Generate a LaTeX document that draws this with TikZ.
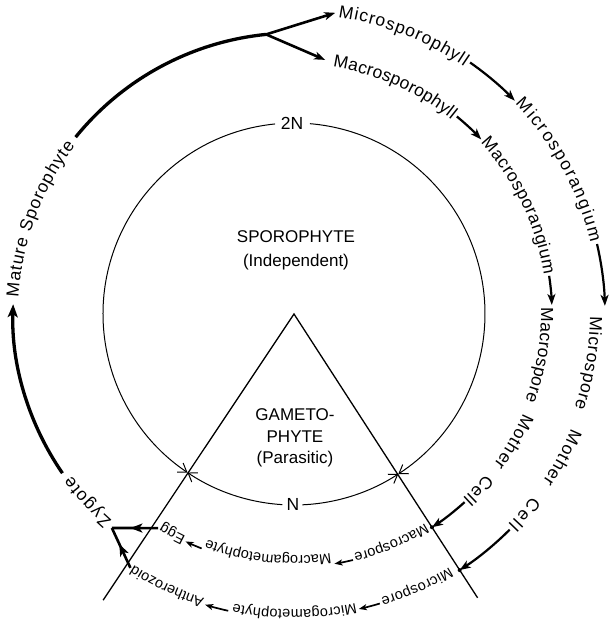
\documentclass[tikz,border=0pt]{standalone}
\usepackage{fontspec}
\setmainfont{Liberation Sans}
\usetikzlibrary{arrows.meta,decorations.text,decorations.markings}

\newcommand{\labbig}{\fontsize{17.5}{21}\selectfont}
\newcommand{\labsmall}{\fontsize{14.5}{18}\selectfont}

\begin{document}
\begin{tikzpicture}[x=1pt,y=1pt,
  ring/.style={decorate,decoration={text along path,text align={fit to path},raise=-5pt,text={#1}}},
  life/.style={line width=3.3pt},
  link/.style={line width=2.2pt,-{Stealth[length=11pt,width=8pt,inset=3pt]}},
  minilink/.style={line width=1.7pt,-{Stealth[length=8pt,width=6pt,inset=2pt]}},
  ploidy/.style={line width=1pt,-{Straight Barb[length=8pt,width=11pt]}},
  midarrow/.style={postaction={decorate,decoration={markings,
    mark=at position #1 with {\arrow{Stealth[length=12pt,width=9pt,inset=3pt]}}}}}]
  \useasboundingbox (-294,-313) rectangle (315,314);
  % fixed points
  \coordinate (O) at (0,0);
  \coordinate (fork) at (95.7:281);
  \coordinate (micphyll) at (82.2:304);
  \coordinate (macphyll) at (83:256);
  \coordinate (zyg) at (-130.4:281);
  \coordinate (macdot) at (-57.1:254);
  \coordinate (micdot) at (-57.1:305);
  \coordinate (eggend) at (-122.4:253.6);
  \coordinate (anthend) at (-122.8:302);
  \coordinate (leftend) at (-123.7:344);
  \coordinate (rightend) at (-57.1:338);
  % ---- 2N / N circle and the gametophyte wedge
  \node[font=\labbig] (twoN) at (90.6:191) {2N};
  \node[font=\labbig] (oneN) at (-90.3:190) {N};
  \draw[ploidy] (95.7:191) arc[start angle=95.7,end angle=236.1,radius=191];
  \draw[ploidy] (85.2:191) arc[start angle=85.2,end angle=-56.9,radius=191];
  \draw[ploidy] (-93.5:191) arc[start angle=-93.5,end angle=-123.9,radius=191];
  \draw[ploidy] (-87.5:191) arc[start angle=-87.5,end angle=-56.9,radius=191];
  \draw[line width=1.3pt] (leftend) -- (O) -- (rightend);
  \fill (macdot) circle (2pt) (micdot) circle (2pt);
  \node[font=\fontsize{17}{24}\selectfont,align=center] (spo) at (2,64) {SPOROPHYTE\\(Independent)};
  \node[font=\fontsize{17}{21.5}\selectfont,align=center] (gam) at (1,-124) {GAMETO-\\PHYTE\\(Parasitic)};
  % ---- sporophyte line and branching
  \draw[life,-{Stealth[length=13pt,width=10pt,inset=3pt]}] (-145.5:281) arc[start angle=-145.5,end angle=-182,radius=281];
  \draw[life] (141:281) arc[start angle=141,end angle=95.7,radius=281];
  \draw[link,line width=2.6pt] (fork) -- (micphyll);
  \draw[link,line width=2.6pt] (fork) -- (macphyll);
  \path[ring={|\labbig|Mature Sporophyte}] (176.5:281) arc[start angle=176.5,end angle=142.5,radius=281];
  % ---- micro ring
  \path[ring={|\labbig|Microsporophyll}] (81.5:305) arc[start angle=81.5,end angle=55.5,radius=305];
  \draw[link] (55:307) arc[start angle=55,end angle=44,radius=307];
  \path[ring={|\labbig|Microsporangium}] (43.5:310) arc[start angle=43.5,end angle=13.5,radius=310];
  \draw[link] (13:311) arc[start angle=13,end angle=1.5,radius=311];
  \path[ring={|\labbig|Microspore}] (-0.5:301) arc[start angle=-0.5,end angle=-18.5,radius=301];
  \path[ring={|\labbig|Mother}] (-22.5:305) arc[start angle=-22.5,end angle=-34,radius=305];
  \path[ring={|\labbig|Cell}] (-37.5:305) arc[start angle=-37.5,end angle=-44.5,radius=305];
  \draw[link] (-45:305) arc[start angle=-45,end angle=-57.1,radius=305];
  \path[ring={|\labsmall|Microspore}] (-58.5:302) arc[start angle=-58.5,end angle=-73,radius=302];
  \draw[minilink] (-73.5:302) arc[start angle=-73.5,end angle=-77.6,radius=302];
  \path[ring={|\labsmall|Microgametophyte}] (-78:301) arc[start angle=-78,end angle=-101.8,radius=301];
  \draw[minilink] (-102.5:304) arc[start angle=-102.5,end angle=-107,radius=304];
  \path[ring={|\labsmall|Antherozoid}] (-107.5:303) arc[start angle=-107.5,end angle=-122.5,radius=303];
  % ---- macro ring
  \path[ring={|\labbig|Macrosporophyll}] (81:255) arc[start angle=81,end angle=51,radius=255];
  \draw[link] (50.5:256) arc[start angle=50.5,end angle=43,radius=256];
  \path[ring={|\labbig|Macrosporangium}] (42.5:258) arc[start angle=42.5,end angle=9,radius=258];
  \draw[link] (8.5:258) arc[start angle=8.5,end angle=2,radius=258];
  \path[ring={|\labbig|Macrospore}] (1.5:252) arc[start angle=1.5,end angle=-20.5,radius=252];
  \path[ring={|\labbig|Mother}] (-23.5:255) arc[start angle=-23.5,end angle=-37,radius=255];
  \path[ring={|\labbig|Cell}] (-40:255) arc[start angle=-40,end angle=-47.5,radius=255];
  \draw[link] (-47.8:254) arc[start angle=-47.8,end angle=-57.1,radius=254];
  \path[ring={|\labsmall|Macrospore}] (-58:252) arc[start angle=-58,end angle=-76,radius=252];
  \draw[minilink] (-76.5:253) arc[start angle=-76.5,end angle=-80.8,radius=253];
  \path[ring={|\labsmall|Macrogametophyte}] (-81.3:247) arc[start angle=-81.3,end angle=-111,radius=247];
  \draw[minilink] (-111.5:252) arc[start angle=-111.5,end angle=-115.5,radius=252];
  \path[ring={|\labsmall|Egg}] (-116:252) arc[start angle=-116,end angle=-122,radius=252];
  % ---- fertilisation
  \draw[line width=2.6pt,midarrow=0.6] (eggend) -- (zyg);
  \draw[line width=2.6pt,midarrow=0.6] (anthend) -- (zyg);
  \path[ring={|\labbig|Zygote}] (-131.5:280) arc[start angle=-131.5,end angle=-144,radius=280];
\end{tikzpicture}
\end{document}
